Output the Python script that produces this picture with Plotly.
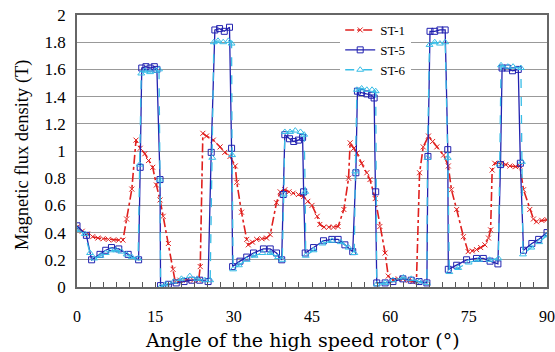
import plotly.graph_objects as go

# ---------------- data ----------------
angle_st1 = [0, 1, 2, 3, 4, 5, 6, 7, 8, 8.8, 9.5, 10.5, 11.3, 12.1, 13.0, 13.7, 14.5, 15.2, 15.9,
             16.5, 17.5, 18.4, 18.8, 19.7, 21, 22.3, 23.3, 23.6, 24.1, 24.8, 26.1, 27.4, 28.3, 29.3,
             30.3, 30.6, 31.5, 32.5, 32.8, 33.6, 34.4, 35.4, 36.3, 37, 38.2, 38.9, 39.8, 40.6, 41.4,
             42.4, 43.4, 44.2, 45, 46, 46.5, 47.3, 48.2, 49.1, 50, 51.1, 52, 52.3, 53.0, 53.6, 54.5,
             55.5, 56.1, 57.1, 58, 59, 59.6, 60.5, 61.5, 62.4, 63.5, 64.3, 65, 65.6, 66.3, 67.3, 68.1,
             68.9, 70.2, 71.1, 71.7, 72.7, 74, 74.9, 75.7, 76.5, 77.3, 78.1, 78.8, 79.2, 79.5, 80,
             81.3, 82.1, 82.9, 84, 84.8, 85.5, 86.7, 87.4, 88, 89, 90]
b_st1 = [0.44, 0.41, 0.39, 0.37, 0.36, 0.355, 0.35, 0.345, 0.345, 0.345, 0.50, 0.72, 1.08, 1.02,
         0.98, 0.93, 0.88, 0.75, 0.64, 0.52, 0.32, 0.13, 0.04, 0.05, 0.05, 0.05, 0.05, 0.15, 1.13,
         1.11, 1.08, 1.03, 0.99, 0.96, 0.89, 0.77, 0.55, 0.35, 0.31, 0.33, 0.35, 0.355, 0.36, 0.385,
         0.62, 0.70, 0.715, 0.70, 0.69, 0.68, 0.665, 0.63, 0.60, 0.52, 0.46, 0.44, 0.44, 0.44, 0.445,
         0.57, 0.80, 1.06, 1.02, 0.985, 0.91, 0.84, 0.79, 0.65, 0.445, 0.25, 0.08, 0.05, 0.06, 0.06,
         0.05, 0.04, 0.04, 0.84, 1.03, 1.11, 1.07, 1.03, 0.97, 0.89, 0.715, 0.57, 0.37, 0.26, 0.265,
         0.275, 0.29, 0.31, 0.36, 0.42, 0.86, 0.91, 0.91, 0.90, 0.89, 0.885, 0.89, 0.715, 0.57, 0.50,
         0.48, 0.49, 0.495]

angle_st5 = [0, 1.8, 2.8, 4.4, 5.5, 6.6, 8.0, 9.8, 11.8, 12.1, 12.4, 13.2, 14.0, 14.8, 15.3, 15.9,
             16.0, 17.5, 19, 20.5, 22, 23.5, 25.1, 25.7, 26.4, 27.3, 28.2, 29.2, 29.6, 29.8, 31.2,
             32.5, 33.8, 35.7, 37.0, 38.2, 39.2, 39.5, 39.8, 40.7, 41.5, 42.4, 43.2, 43.4, 43.7, 45.3,
             47.2, 48.8, 50.0, 51.3, 52.8, 53.4, 53.7, 54.5, 55.5, 56.4, 56.9, 57.2, 57.4, 59, 60.5,
             62.4, 64, 65.5, 67.0, 67.2, 67.6, 68.5, 69.5, 70.5, 71.0, 71.1, 72.7, 74.6, 76.5, 77.8,
             79.1, 80.6, 81.1, 81.4, 82.4, 83.4, 84.5, 84.9, 85.5, 87.1, 88.4, 90]
b_st5 = [0.45, 0.38, 0.20, 0.24, 0.27, 0.29, 0.28, 0.24, 0.20, 0.88, 1.61, 1.62, 1.61, 1.62, 1.60,
         0.79, 0.01, 0.02, 0.03, 0.04, 0.05, 0.05, 0.04, 0.99, 1.89, 1.90, 1.88, 1.91, 1.02, 0.15,
         0.19, 0.22, 0.25, 0.28, 0.28, 0.25, 0.20, 0.68, 1.12, 1.09, 1.07, 1.08, 1.10, 0.70, 0.25,
         0.29, 0.34, 0.35, 0.35, 0.31, 0.26, 0.84, 1.44, 1.43, 1.42, 1.41, 1.39, 0.70, 0.03, 0.03,
         0.04, 0.06, 0.05, 0.04, 0.03, 0.96, 1.88, 1.88, 1.89, 1.89, 1.01, 0.13, 0.16, 0.20, 0.21,
         0.21, 0.19, 0.17, 0.90, 1.61, 1.61, 1.59, 1.60, 0.91, 0.27, 0.32, 0.35, 0.40]

angle_st6 = [0, 1.5, 2.5, 3.3, 4.5, 5.5, 6.5, 7.5, 8.5, 9.5, 10.5, 11.7, 12.0, 12.3, 13.0, 14.0,
             15.0, 15.7, 15.9, 16.0, 17, 18.5, 20, 21.6, 23, 24.5, 25.5, 25.9, 26.2, 27, 28, 29, 29.6,
             29.7, 29.9, 31, 32.5, 34, 35.5, 37, 38.5, 39.3, 39.6, 39.8, 40.8, 41.8, 42.8, 43.5, 43.7,
             43.8, 45.3, 47, 48.8, 50.5, 52, 53.1, 53.3, 53.6, 54.5, 55.5, 56.5, 57.2, 57.4, 59, 60.5,
             62.5, 64, 65.5, 67.0, 67.1, 67.5, 68.5, 69.5, 70.5, 71.0, 71.3, 73, 75, 77, 79, 80.7,
             80.9, 81.2, 82.5, 83.5, 85.0, 85.2, 85.4, 87, 88.5, 90]
b_st6 = [0.42, 0.39, 0.25, 0.21, 0.23, 0.25, 0.27, 0.27, 0.26, 0.24, 0.22, 0.21, 0.90, 1.57, 1.59,
         1.58, 1.59, 1.60, 0.79, 0.0, 0.02, 0.04, 0.06, 0.08, 0.06, 0.05, 0.05, 0.95, 1.80, 1.81,
         1.80, 1.81, 1.79, 0.97, 0.13, 0.16, 0.20, 0.23, 0.25, 0.25, 0.22, 0.20, 0.68, 1.14, 1.14,
         1.15, 1.14, 1.12, 0.70, 0.23, 0.27, 0.32, 0.34, 0.33, 0.29, 0.25, 0.85, 1.45, 1.46, 1.45,
         1.45, 1.44, 0.02, 0.03, 0.05, 0.07, 0.06, 0.04, 0.03, 0.95, 1.78, 1.80, 1.79, 1.80, 0.95,
         0.11, 0.14, 0.18, 0.20, 0.20, 0.21, 0.90, 1.63, 1.62, 1.62, 1.61, 0.92, 0.24, 0.29, 0.33,
         0.38]

x_tick_vals = [0, 15, 30, 45, 60, 75, 90]
x_tick_text = ["0", "15", "30", "45", "60", "75", "90"]
series_names = ["ST-1", "ST-5", "ST-6"]
x_title = "Angle of the high speed rotor (°)"
y_title = "Magnetic flux density (T)"

# ---------------- figure ----------------
RED = "#e0201e"
BLUE = "#2222b0"
CYAN = "#38bde6"

fig = go.Figure()
fig.add_trace(go.Scatter(
    x=angle_st1, y=b_st1, name=series_names[0], mode="lines+markers",
    line=dict(color=RED, width=1.6, dash="dashdot"),
    marker=dict(symbol="x-thin", size=5, color=RED, line=dict(color=RED, width=1))))
fig.add_trace(go.Scatter(
    x=angle_st5, y=b_st5, name=series_names[1], mode="lines+markers",
    line=dict(color=BLUE, width=1.3),
    marker=dict(symbol="square-open", size=6, color=BLUE, line=dict(color=BLUE, width=1))))
fig.add_trace(go.Scatter(
    x=angle_st6, y=b_st6, name=series_names[2], mode="lines+markers",
    line=dict(color=CYAN, width=1.3, dash="dash"),
    marker=dict(symbol="triangle-up-open", size=6, color=CYAN, line=dict(color=CYAN, width=1))))

fig.update_layout(
    width=555, height=352,
    margin=dict(l=77, r=8, t=15, b=65),
    paper_bgcolor="white", plot_bgcolor="white",
    font=dict(family="Liberation Serif", color="black"),
    showlegend=True,
    legend=dict(x=0.56, y=1.0, xanchor="left", yanchor="top",
                bgcolor="white", borderwidth=0,
                font=dict(family="Liberation Serif", size=13),
                tracegroupgap=0, itemwidth=30),
    annotations=[
        dict(text=x_title, xref="paper", yref="paper", x=0.479, y=-0.195,
             xanchor="center", yanchor="middle", showarrow=False,
             font=dict(family="DejaVu Serif", size=19, color="black")),
        dict(text=y_title, xref="paper", yref="paper", x=-0.117, y=0.485,
             xanchor="center", yanchor="middle", showarrow=False, textangle=-90,
             font=dict(family="Liberation Serif", size=18.5, color="black")),
    ],
)
fig.update_xaxes(
    automargin=False,
    range=[0, 90], tickvals=x_tick_vals, ticktext=x_tick_text,
    ticks="inside", ticklen=5, tickcolor="#555", tickwidth=1,
    minor=dict(dtick=2.5, ticks="inside", ticklen=5, tickcolor="#555", showgrid=False),
    showgrid=False, zeroline=False,
    showline=True, linecolor="#666", linewidth=1.5, mirror=True,
    tickfont=dict(family="Liberation Serif", size=16),
    ticklabelstandoff=14,
)
fig.update_yaxes(
    automargin=False,
    range=[0, 2], dtick=0.2, tick0=0,
    showgrid=True, gridcolor="#999", gridwidth=1,
    ticks="", zeroline=False,
    showline=True, linecolor="#666", linewidth=1.5, mirror=True,
    tickfont=dict(family="Liberation Serif", size=17),
    ticklabelstandoff=6,
)

fig.write_html("out.html", config={"displayModeBar": False},
               post_script="document.body.style.margin='0';")
